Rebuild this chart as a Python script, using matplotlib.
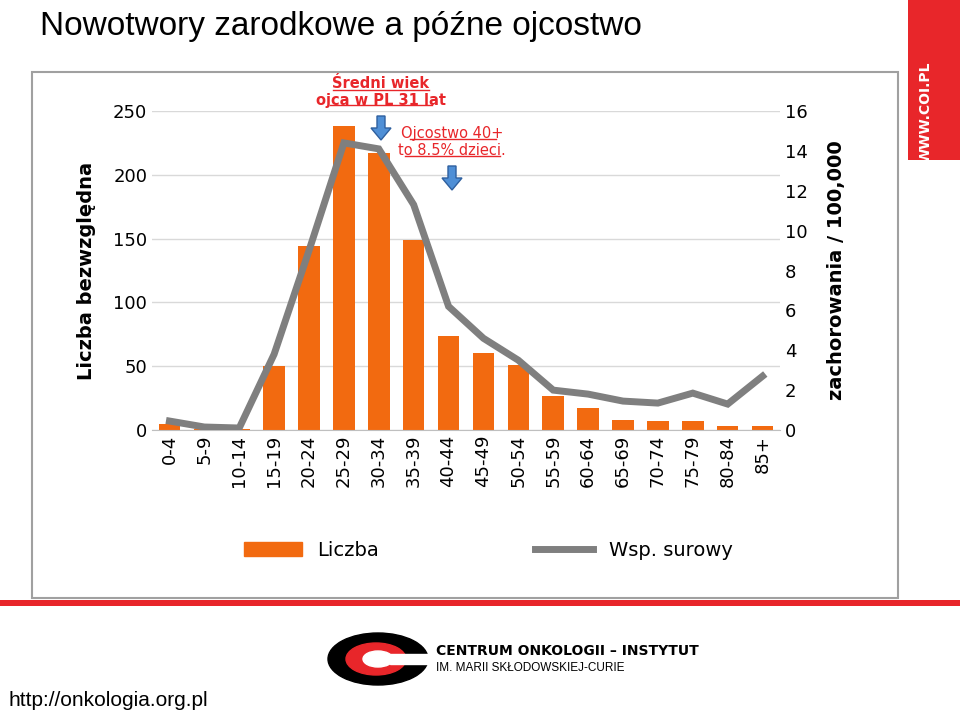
import matplotlib
matplotlib.use("Agg")
import matplotlib.pyplot as plt
from matplotlib.patches import Rectangle, Ellipse, FancyArrow
from matplotlib.lines import Line2D

categories = ["0-4","5-9","10-14","15-19","20-24","25-29","30-34","35-39","40-44","45-49",
              "50-54","55-59","60-64","65-69","70-74","75-79","80-84","85+"]
counts = [5,1,1,50,144,238,217,149,74,60,51,27,17,8,7,7,3,3]
rates = [0.45,0.15,0.1,3.8,9.0,14.4,14.1,11.3,6.2,4.6,3.5,2.0,1.8,1.45,1.35,1.85,1.3,2.7]

W, H = 960, 717
fig = plt.figure(figsize=(9.6, 7.17), dpi=100)
fig.patch.set_facecolor("white")
def fx(x): return x / W
def fy(y): return 1 - y / H

# slide decorations
fig.text(fx(40), fy(26), "Nowotwory zarodkowe a późne ojcostwo", fontsize=24, family="Liberation Sans", va="center")
fig.patches.append(Rectangle((fx(32), fy(598)), fx(866), (598-72)/H, transform=fig.transFigure,
                             fill=False, edgecolor="#a0a0a0", lw=1.5))
fig.patches.append(Rectangle((0, fy(606)), 1, 6/H, transform=fig.transFigure, color="#e8262a", lw=0))
fig.patches.append(Rectangle((fx(908), fy(160)), 52/W, 160/H, transform=fig.transFigure, color="#e8262a", lw=0))
fig.text(fx(926), fy(112), "WWW.COI.PL", color="white", rotation=90, fontsize=10, fontweight="bold", ha="center", va="center")
fig.text(fx(8), fy(700), "http://onkologia.org.pl", fontsize=15, family="Liberation Sans", va="center")
# logo
fig.patches.append(Ellipse((fx(378), fy(659)), 100/W, 52/H, transform=fig.transFigure, color="black"))
fig.patches.append(Ellipse((fx(376), fy(659)), 60/W, 32/H, transform=fig.transFigure, color="#e8262a"))
fig.patches.append(Ellipse((fx(378), fy(659)), 30/W, 16/H, transform=fig.transFigure, color="white"))
fig.patches.append(Rectangle((fx(390), fy(664)), 40/W, 10/H, transform=fig.transFigure, color="white"))
fig.text(fx(436), fy(651), "CENTRUM ONKOLOGII – INSTYTUT", fontsize=10, fontweight="bold", va="center", family="Liberation Sans Narrow")
fig.text(fx(436), fy(668), "IM. MARII SKŁODOWSKIEJ-CURIE", fontsize=8.5, va="center", family="Liberation Sans")

# chart
ax = fig.add_axes([fx(152), fy(430), (780-152)/W, (430-111)/H])
x = range(len(categories))
ax.bar(x, counts, width=0.62, color="#f26a10", zorder=2)
ax.set_ylim(0, 250)
ax.set_yticks(range(0, 251, 50))
ax.set_xlim(-0.5, len(categories) - 0.5)
ax.set_xticks(list(x))
ax.set_xticklabels(categories, rotation=90, fontsize=13, family="DejaVu Sans")
ax.tick_params(axis="y", labelsize=13, length=0)
ax.tick_params(axis="x", length=0)
ax.grid(axis="y", color="#d9d9d9", lw=1, zorder=0)
for s in ax.spines.values():
    s.set_visible(False)
ax.spines["bottom"].set_visible(True)
ax.spines["bottom"].set_color("#bfbfbf")
ax.set_ylabel("Liczba bezwzględna", fontsize=14, fontweight="bold", labelpad=12)

ax2 = ax.twinx()
ax2.plot(list(x), rates, color="#7f7f7f", lw=5, solid_joinstyle="miter", zorder=3)
ax2.set_ylim(0, 16)
ax2.set_yticks(range(0, 17, 2))
ax2.tick_params(axis="y", labelsize=13, length=0)
for s in ax2.spines.values():
    s.set_visible(False)
ax2.set_ylabel("zachorowania / 100,000", fontsize=14, fontweight="bold", labelpad=14)

handles = [Rectangle((0, 0), 1, 1, color="#f26a10"), Line2D([0], [0], color="#7f7f7f", lw=5)]
fig.legend(handles, ["Liczba", "Wsp. surowy"], loc="center", bbox_to_anchor=(fx(488), fy(550)),
           ncol=2, frameon=False, fontsize=14, columnspacing=8, handlelength=3)

# annotations
fig.text(fx(381), fy(92), "Średni wiek\nojca w PL 31 lat", color="#e8262a", fontsize=10.5, fontweight="bold",
         ha="center", va="center", linespacing=1.1)
fig.text(fx(452), fy(142), "Ojcostwo 40+\nto 8.5% dzieci.", color="#e8262a", fontsize=10.5,
         ha="center", va="center", linespacing=1.1)
for (x0, x1, yy) in [(333, 429, 90), (330, 432, 105), (410, 496, 139), (405, 500, 156)]:
    fig.add_artist(Line2D([fx(x0), fx(x1)], [fy(yy), fy(yy)], color="#e8262a", lw=1))
for ax_, ay in [(381, 116), (452, 166)]:
    fig.patches.append(FancyArrow(fx(ax_), fy(ay), 0, -24/H, width=8/W, head_width=20/W, head_length=12/H,
                                  length_includes_head=True, transform=fig.transFigure,
                                  facecolor="#4f8fd6", edgecolor="#2e5f9e"))

fig.savefig("out.png", dpi=100)
